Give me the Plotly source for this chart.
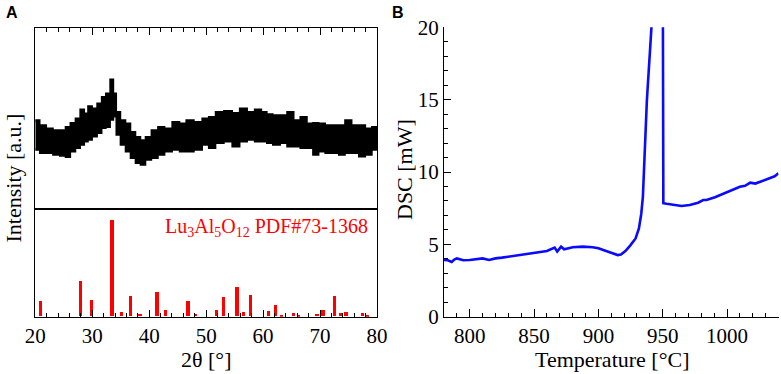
import plotly.graph_objects as go

# ---------------- Panel A: XRD ----------------
# envelope of the noisy measured pattern (2θ, intensity a.u.)
xrd_2theta = [20.0, 20.2, 21.35, 22.5, 23.7, 24.9, 25.7, 26.6, 27.5, 28.25, 28.95, 29.55, 30.4, 31.3,
              32.0, 32.77, 33.5, 33.93, 34.5, 35.4, 36.28, 37.15, 38.03, 38.9, 39.8, 40.97,
              42.1, 43.3, 44.76, 45.9, 47.1, 48.6, 50.0, 50.9, 52.4, 53.84, 55.3, 56.47,
              57.93, 59.1, 60.3, 61.0, 62.4, 63.6, 64.8, 65.95, 67.1, 68.3, 69.2, 70.3,
              71.5, 72.7, 73.85, 74.9, 76.2, 77.4, 78.5, 79.7, 80.0]
xrd_upper = [88, 89.3, 84.3, 81, 79.3, 79.3, 82.6, 86.6, 91, 100, 96, 103.3, 101, 106,
             112.6, 116, 130, 116, 97.6, 89.3, 86, 77.6, 72.6, 69.3, 72.6, 79.3,
             82.6, 81, 87.6, 86, 89.3, 87.6, 91, 92.6, 97.6, 98.6, 96.6, 101,
             97.6, 100, 97.6, 95.3, 94.3, 94.3, 97.6, 89.3, 92.6, 86, 86.6, 86,
             84.3, 84.3, 84.3, 89.3, 84.3, 84.3, 81, 82.6, 82]
xrd_lower = [60, 59.3, 56, 56, 54.3, 53.3, 52, 57.6, 61, 64.3, 67.6, 69.3, 72.6, 76,
             81, 82, 89.3, 92.6, 74.3, 64.3, 57.6, 51, 46, 44.3, 49.3, 51,
             54.3, 57.6, 59.3, 57.6, 57.6, 59.3, 64.3, 61, 66, 67.6, 62.6, 67.6,
             69.3, 67.6, 67.6, 66, 64.3, 66, 62.6, 62.6, 61, 61, 54.3, 57.6,
             56, 56, 54.3, 56, 56, 52.6, 54.3, 59.3, 60]

# reference card Lu3Al5O12 PDF#73-1368 (2θ, relative intensity)
pdf_2theta = [21.0, 28.0, 29.9, 33.5, 35.2, 36.8, 38.4, 41.4, 42.9, 46.9, 48.2, 51.85, 53.1,
              55.5, 56.65, 57.8, 61.0, 62.2, 63.3, 65.4, 66.3, 69.5, 70.6, 72.6, 73.6,
              74.6, 77.55, 78.4]
pdf_int = [14, 32.6, 15.3, 90, 3.7, 18.6, 2.5, 22.7, 5.6, 14.6, 2.5, 5.6, 18,
           27.4, 4.1, 20.2, 5, 10.2, 1, 2.8, 1.6, 2.5, 5.6, 18.6, 3.1,
           4.4, 3.1, 1.2]

# ---------------- Panel B: DSC ----------------
dsc_T = [780, 783, 786, 788, 790, 795, 800, 805, 810, 815, 820, 825, 830, 840, 850, 860, 866,
         868, 871, 873.4, 880, 888, 895.6, 900, 906, 911, 915, 917.5, 921, 925, 928.9,
         931.5, 933.3, 934.6, 937.7, 941.2, 944, 950.0, 950.5, 953, 958, 964.6, 971,
         977.5, 981.5, 984, 990.6, 997, 1002, 1006, 1010, 1014, 1018, 1022, 1025.8, 1030,
         1033.6, 1037, 1040]
dsc_mW = [3.92, 3.9, 3.78, 3.95, 4.03, 3.9, 3.92, 3.98, 4.03, 3.92, 4.03, 4.08, 4.15, 4.26,
          4.38, 4.54, 4.78, 4.5, 4.84, 4.66, 4.8, 4.84, 4.8, 4.73, 4.54, 4.38, 4.26, 4.3,
          4.54, 4.95, 5.41, 6.1, 7.1, 8.3, 14.97, 19.93, 25, 26, 7.84, 7.8, 7.72, 7.65,
          7.72, 7.88, 8.06, 8.07, 8.26, 8.5, 8.65, 8.8, 8.98, 9.05, 9.26, 9.2, 9.33, 9.45,
          9.56, 9.7, 9.91]

serif = "Liberation Serif"
W, H = 781, 374

def px_x(v):
    return v / W

def px_y(v):
    return 1 - v / H

fig = go.Figure()

# XRD noisy band
fig.add_trace(go.Scatter(x=xrd_2theta, y=xrd_upper, mode="lines", line=dict(color="black", width=1.6, shape="hvh"),
                         xaxis="x2", yaxis="y2", showlegend=False, hoverinfo="skip"))
fig.add_trace(go.Scatter(x=xrd_2theta, y=xrd_lower, mode="lines", line=dict(color="black", width=1.6, shape="hvh"),
                         fill="tonexty", fillcolor="black",
                         xaxis="x2", yaxis="y2", showlegend=False, hoverinfo="skip"))

# PDF sticks
fig.add_trace(go.Bar(x=pdf_2theta, y=pdf_int, width=0.6, marker=dict(color="#ff0000", line=dict(width=0)),
                     xaxis="x", yaxis="y", showlegend=False))

# DSC curve
fig.add_trace(go.Scatter(x=dsc_T, y=dsc_mW, mode="lines", line=dict(color="#0a0aff", width=2.6),
                         xaxis="x3", yaxis="y3", showlegend=False))

xA = [px_x(35.3), px_x(377)]
xB = [px_x(444), px_x(778.5)]
y_bot = [px_y(316.7), px_y(209.3)]
y_top = [px_y(209.3), px_y(28)]
yB = [px_y(316.7), px_y(27.3)]

tickfont = dict(family=serif, size=21, color="black")

fig.update_layout(
    width=W, height=H,
    margin=dict(l=0, r=0, t=0, b=0, pad=0, autoexpand=False),
    paper_bgcolor="white", plot_bgcolor="white",
    bargap=0,
    xaxis=dict(domain=xA, anchor="y", range=[20, 80], showline=True, linecolor="black", linewidth=1.3,
               mirror=True, ticks="inside", ticklen=7, tickwidth=1.3, tickcolor="black",
               tickvals=[20, 30, 40, 50, 60, 70, 80], showgrid=False, zeroline=False,
               tickfont=tickfont, automargin=False,
               minor=dict(ticks="inside", ticklen=4, tickwidth=1.2, tickcolor="black", dtick=2, tick0=20, showgrid=False)),
    yaxis=dict(domain=y_bot, anchor="x", range=[0, 100], showline=True, linecolor="black", linewidth=1.3,
               mirror=True, ticks="", showticklabels=False, showgrid=False, zeroline=False, automargin=False),
    xaxis2=dict(domain=xA, anchor="y2", matches="x", range=[20, 80], side="top", showline=True,
                linecolor="black", linewidth=1.3, mirror=True, ticks="inside", ticklen=7, tickwidth=1.3,
                tickcolor="black", tickvals=[20, 30, 40, 50, 60, 70, 80], showticklabels=False,
                showgrid=False, zeroline=False, automargin=False,
                minor=dict(ticks="inside", ticklen=4, tickwidth=1.2, tickcolor="black", dtick=2, tick0=20, showgrid=False)),
    yaxis2=dict(domain=y_top, anchor="x2", range=[0, 181.3], showline=True, linecolor="black", linewidth=1.3,
                mirror=True, ticks="", showticklabels=False, showgrid=False, zeroline=False, automargin=False),
    xaxis3=dict(domain=xB, anchor="y3", range=[780, 1040], showline=True, linecolor="black", linewidth=1.3,
                mirror=False, ticks="inside", ticklen=8, tickwidth=1.3, tickcolor="black",
                tickvals=[800, 850, 900, 950, 1000], showgrid=False, zeroline=False, tickfont=tickfont,
                automargin=False,
                minor=dict(ticks="inside", ticklen=4, tickwidth=1.2, tickcolor="black", dtick=10, tick0=800, showgrid=False)),
    yaxis3=dict(domain=yB, anchor="x3", range=[0, 20], showline=True, linecolor="black", linewidth=1.3,
                mirror=False, ticks="inside", ticklen=7, tickwidth=1.3, tickcolor="black",
                tickvals=[0, 5, 10, 15, 20], showgrid=False, zeroline=False, automargin=False,
                tickfont=dict(family=serif, size=21, color="black"),
                minor=dict(ticks="inside", ticklen=4, tickwidth=1.2, tickcolor="black", dtick=1, tick0=0, showgrid=False)),
)

ann = [
    dict(text="<b>A</b>", x=px_x(12), y=px_y(12.5), font=dict(family="Liberation Sans", size=16, color="black")),
    dict(text="<b>B</b>", x=px_x(397.5), y=px_y(12.5), font=dict(family="Liberation Sans", size=16, color="black")),
    dict(text="Intensity [a.u.]", x=px_x(13), y=px_y(178.5), textangle=-90,
         font=dict(family=serif, size=22, color="black")),
    dict(text="DSC [mW]", x=px_x(404), y=px_y(170), textangle=-90,
         font=dict(family=serif, size=22, color="black")),
    dict(text="2θ [°]", x=px_x(206), y=px_y(359.5), font=dict(family=serif, size=22, color="black")),
    dict(text="Temperature [°C]", x=px_x(612), y=px_y(359.5), font=dict(family=serif, size=22, color="black")),
]
for a in ann:
    fig.add_annotation(xref="paper", yref="paper", showarrow=False, xanchor="center", yanchor="middle", **a)

fig.add_annotation(xref="paper", yref="paper", showarrow=False, xanchor="right", yanchor="middle",
                   x=px_x(370), y=px_y(227),
                   text="Lu<sub>3</sub>Al<sub>5</sub>O<sub>12</sub> PDF#73-1368",
                   font=dict(family=serif, size=20, color="#ff0000"))

fig.write_html("out.html", config={"displayModeBar": False},
               post_script="document.body.style.margin='0';document.body.style.padding='0';")
